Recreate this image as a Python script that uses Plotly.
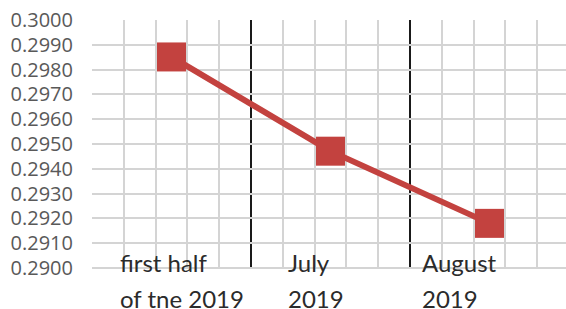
import plotly.graph_objects as go

categories = ["first half\nof tne 2019", "July\n2019", "August\n2019"]
values = [0.29851, 0.29471, 0.29180]
y_ticks = [0.2900, 0.2910, 0.2920, 0.2930, 0.2940, 0.2950,
           0.2960, 0.2970, 0.2980, 0.2990, 0.3000]

W, H = 566, 309
ML, MT, MB = 92, 20, 41
cat_px = 159.0
plot_w = W - ML
x0 = -0.5
x1 = x0 + plot_w / cat_px

red = "#C3423F"
grid_c = "#D4D4D4"
xs = list(range(len(categories)))

fig = go.Figure()
fig.add_trace(go.Scatter(
    x=xs, y=values, mode="lines+markers",
    line=dict(color=red, width=6),
    marker=dict(symbol="square", size=29, color=red),
    hoverinfo="skip", showlegend=False, cliponaxis=False,
))

# minor vertical grid: 5 per category, excluding category boundaries
grid_x = []
for i in range(len(categories)):
    for k in range(1, 5):
        grid_x.append(i - 0.5 + k * 0.2)

shapes = []
for i in range(1, len(categories)):
    shapes.append(dict(type="line", xref="x", yref="y",
                       x0=i - 0.5, x1=i - 0.5, y0=y_ticks[0], y1=y_ticks[-1],
                       line=dict(color="#1a1a1a", width=2), layer="below"))
# bottom gridline (plotly drops the one at the axis edge)
shapes.append(dict(type="line", xref="paper", yref="paper", x0=0, x1=1,
                   y0=0, y1=0, ysizemode="scaled",
                   line=dict(color=grid_c, width=2), layer="above"))

# category labels (two lines each, left-aligned)
label_left = [-0.335, 0.722, 1.560]
annotations = []
for i, cat in enumerate(categories):
    lines = cat.split("\n")
    for j, txt in enumerate(lines):
        annotations.append(dict(
            x=label_left[i], y=0, xref="x", yref="paper",
            xanchor="left", yanchor="middle",
            yshift=6 - j * 36, text=txt, showarrow=False,
            font=dict(family="Lato", size=24, color="#2b2b2b"),
        ))

fig.update_layout(
    width=W, height=H,
    margin=dict(l=ML, r=0, t=MT, b=MB, pad=0, autoexpand=False),
    paper_bgcolor="white", plot_bgcolor="white",
    shapes=shapes, annotations=annotations,
    xaxis=dict(range=[x0, x1], tickmode="array", tickvals=grid_x,
               showticklabels=False, showgrid=True, gridcolor=grid_c,
               gridwidth=2, zeroline=False, showline=False, ticks="",
               automargin=False),
    yaxis=dict(range=[y_ticks[0], y_ticks[-1]], tickmode="array",
               tickvals=y_ticks, ticktext=[f"{v:.4f}" for v in y_ticks],
               showgrid=True, gridcolor=grid_c, gridwidth=2,
               zeroline=False, showline=False, automargin=False,
               ticks="outside", ticklen=14, tickcolor="rgba(0,0,0,0)",
               tickfont=dict(family="Open Sans", size=20, color="#595959")),
)

fig.write_html("out.html", config={"displayModeBar": False},
               post_script="document.body.style.margin='0';document.body.style.overflow='hidden';")
